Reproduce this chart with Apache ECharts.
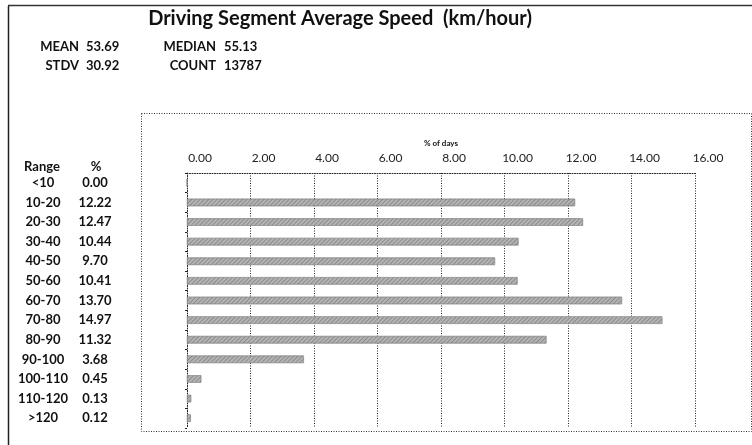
<!DOCTYPE html>
<html>
<head>
    <meta charset="utf-8">
    <title>Driving Segment Average Speed</title>
    <script src="https://cdn.jsdelivr.net/npm/echarts@6/dist/echarts.min.js"></script>
    <style>
        html, body { margin: 0; padding: 0; background: #fff; }
        #main { width: 752px; height: 445px; }
    </style>
</head>
<body>
<div id="main"></div>
<script>
    // data
    var ranges = ['<10', '10-20', '20-30', '30-40', '40-50', '50-60', '60-70', '70-80', '80-90', '90-100', '100-110', '110-120', '>120'];
    var percents = [0.00, 12.22, 12.47, 10.44, 9.70, 10.41, 13.70, 14.97, 11.32, 3.68, 0.45, 0.13, 0.12];
    var xTicks = [0, 2, 4, 6, 8, 10, 12, 14, 16];
    var statsLeft = [['MEAN', '53.69'], ['STDV', '30.92']];
    var statsRight = [['MEDIAN', '55.13'], ['COUNT', '13787']];

    var FONT = 'Lato, "Open Sans", sans-serif';
    var chart = echarts.init(document.getElementById('main'));

    var texts = [];
    // stats block
    for (var i = 0; i < statsLeft.length; i++) {
        texts.push({type: 'text', x: 79, y: 47 + i * 19,
            style: {text: statsLeft[i][0], font: 'bold 13px ' + FONT, fill: '#111', align: 'right', verticalAlign: 'middle'}});
        texts.push({type: 'text', x: 86, y: 47 + i * 19,
            style: {text: statsLeft[i][1], font: 'bold 13px ' + FONT, fill: '#111', verticalAlign: 'middle'}});
        texts.push({type: 'text', x: 216, y: 47 + i * 19,
            style: {text: statsRight[i][0], font: 'bold 13px ' + FONT, fill: '#111', align: 'right', verticalAlign: 'middle'}});
        texts.push({type: 'text', x: 224, y: 47 + i * 19,
            style: {text: statsRight[i][1], font: 'bold 13px ' + FONT, fill: '#111', verticalAlign: 'middle'}});
    }

    var option = {
        animation: false,
        title: {
            text: 'Driving Segment Average Speed  (km/hour)',
            left: 335, top: 4, textAlign: 'center',
            textStyle: {fontFamily: FONT, fontSize: 20, fontWeight: 'bold', color: '#111'}
        },
        grid: {left: 187, right: 57, top: 173, bottom: 17},
        xAxis: {
            type: 'value', position: 'top', min: 0, max: 16, interval: 2,
            name: '% of days', nameLocation: 'middle', nameGap: 21,
            nameTextStyle: {fontFamily: FONT, fontSize: 8, fontWeight: 'bold', color: '#111'},
            axisLine: {show: true, lineStyle: {color: '#222', type: [1, 1.5], width: 1}},
            axisTick: {show: false},
            splitLine: {show: true, lineStyle: {color: '#222', type: [1, 1.5], width: 1}},
            axisLabel: {
                margin: 9, padding: [0, 0, 0, 26],
                fontFamily: FONT, fontSize: 12, color: '#222',
                formatter: function (v) { return v.toFixed(2); },
                customValues: xTicks
            }
        },
        yAxis: {
            type: 'category', inverse: true, data: ranges,
            axisLine: {show: true, lineStyle: {color: '#222', type: [1, 1.5]}},
            axisTick: {show: true, length: 2, lineStyle: {color: '#222'}},
            axisLabel: {
                margin: 70,
                formatter: function (v, idx) {
                    return '{r|' + v + '}{p|' + percents[idx].toFixed(2) + '}';
                },
                rich: {
                    r: {width: 60, align: 'center', fontFamily: FONT, fontSize: 13, fontWeight: 'bold', color: '#111'},
                    p: {width: 44, align: 'center', fontFamily: FONT, fontSize: 13, fontWeight: 'bold', color: '#111'}
                }
            }
        },
        series: [{
            type: 'bar', data: percents, barWidth: '38%',
            itemStyle: {
                color: '#b4b4b4', borderColor: '#8c8c8c', borderWidth: 0.5,
                decal: {symbol: 'rect', symbolSize: 1, dashArrayX: [1, 0], dashArrayY: [1, 2], rotation: -0.785, color: 'rgba(90,90,90,0.45)'}
            },
            silent: true
        }],
        graphic: texts.concat([
            // page frame
            {type: 'line', shape: {x1: 8.5, y1: 6, x2: 8.5, y2: 445}, style: {stroke: '#222', lineWidth: 1.5}},
            {type: 'line', shape: {x1: 8, y1: 5.5, x2: 752, y2: 5.5}, style: {stroke: '#333', lineWidth: 1.5}},
            // chart box
            {type: 'rect', shape: {x: 141.5, y: 113.5, width: 610, height: 318},
                style: {fill: 'none', stroke: '#333', lineWidth: 1, lineDash: [1, 1.5]}},
            // table header
            {type: 'text', x: 42, y: 167, style: {text: 'Range', font: 'bold 13px ' + FONT, fill: '#111', align: 'center', verticalAlign: 'middle'}},
            {type: 'text', x: 96, y: 167, style: {text: '%', font: 'bold 13px ' + FONT, fill: '#111', align: 'center', verticalAlign: 'middle'}}
        ])
    };
    chart.setOption(option);
</script>
</body>
</html>
